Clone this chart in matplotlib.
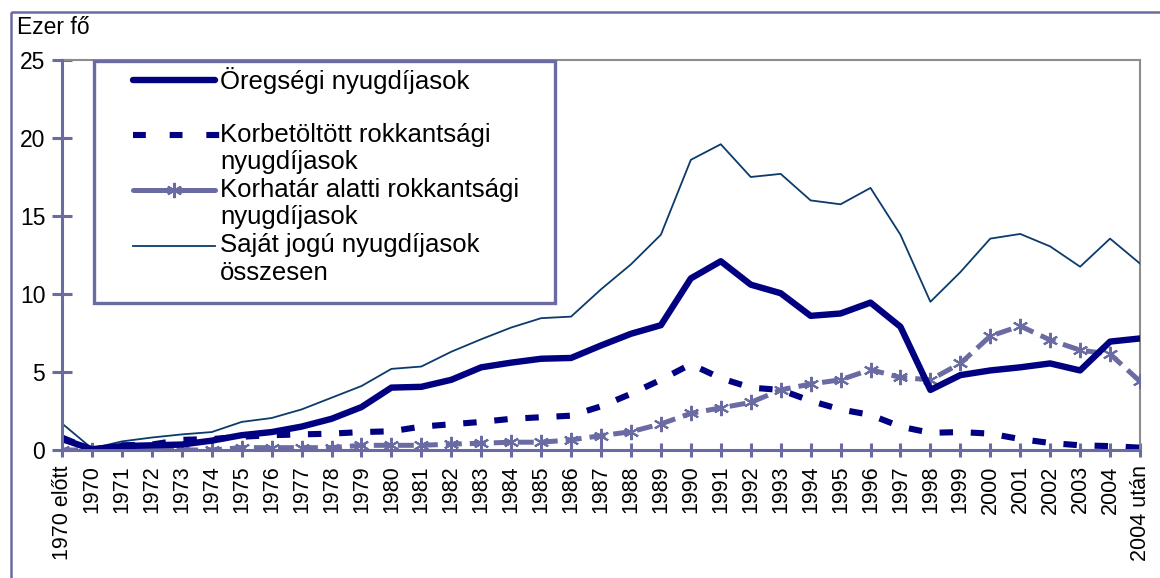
import matplotlib
matplotlib.use('Agg')
import matplotlib.pyplot as plt
from matplotlib.patches import Rectangle

plt.rcParams['font.family'] = ['Liberation Sans', 'DejaVu Sans']

# x kategóriák
kategoriak = ['1970 előtt'] + [str(ev) for ev in range(1970, 2005)] + ['2004 után']

# ezer fő
oregsegi = [0.7, 0.05, 0.25, 0.3, 0.35, 0.6, 0.95, 1.15, 1.5, 2.0, 2.75, 4.0, 4.05,
            4.5, 5.3, 5.6, 5.85, 5.9, 6.7, 7.45, 8.0, 11.0, 12.1, 10.6, 10.05, 8.6,
            8.75, 9.45, 7.9, 3.85, 4.8, 5.1, 5.3, 5.55, 5.1, 6.95, 7.15]
korbetoltott = [0.8, 0.0, 0.3, 0.35, 0.65, 0.7, 0.85, 0.95, 1.0, 1.05, 1.15, 1.2, 1.5,
                1.65, 1.8, 2.0, 2.1, 2.2, 2.8, 3.6, 4.5, 5.5, 4.6, 4.0, 3.85, 3.15,
                2.6, 2.25, 1.5, 1.1, 1.15, 1.05, 0.7, 0.45, 0.3, 0.25, 0.15]
korhatar_alatti = [0.0, 0.0, 0.0, 0.0, 0.0, 0.0, 0.15, 0.15, 0.15, 0.15, 0.3, 0.3, 0.3,
                   0.38, 0.43, 0.5, 0.5, 0.65, 0.92, 1.17, 1.67, 2.35, 2.7, 3.05, 3.85,
                   4.23, 4.5, 5.15, 4.65, 4.5, 5.55, 7.3, 7.95, 7.05, 6.4, 6.15, 4.4]
osszesen = [1.7, 0.1, 0.55, 0.8, 1.0, 1.15, 1.8, 2.05, 2.6, 3.35, 4.1, 5.2, 5.35,
            6.3, 7.1, 7.85, 8.45, 8.55, 10.3, 11.9, 13.8, 18.6, 19.6, 17.5, 17.7,
            16.0, 15.75, 16.8, 13.8, 9.5, 11.4, 13.55, 13.85, 13.05, 11.75, 13.55, 11.95]

navy = '#000080'
pala = '#6B6BA3'
sotetkek = '#0B3B6B'
szurke = '#8C8C8C'
FS = 15.5
FS_LEG = 18.5

W, H = 1160, 578
fig = plt.figure(figsize=(W / 100, H / 100), dpi=100)
ax = fig.add_axes([62 / W, 1 - 450 / H, (1140 - 62) / W, (450 - 60) / H])

x = list(range(len(kategoriak)))
ax.plot(x, osszesen, color=sotetkek, lw=1.3, zorder=3)
ax.plot(x, korhatar_alatti, color=pala, lw=3.6, dashes=(3.2, 1.6),
        marker=(6, 2, 0), ms=11, mew=1.5, mec=pala, zorder=4)
ax.plot(x, korbetoltott, color=navy, lw=4.4, dashes=(2.2, 2.9),
        solid_capstyle='butt', dash_capstyle='butt', zorder=5)
ax.plot(x, oregsegi, color=navy, lw=4.6, solid_joinstyle='round', zorder=6)

ax.set_xlim(0, len(kategoriak) - 1)
ax.set_ylim(0, 25)
ax.set_yticks([0, 5, 10, 15, 20, 25])
ax.set_xticks(x)
ax.set_xticklabels(kategoriak, rotation=90, fontsize=FS)
ax.tick_params(axis='y', direction='inout', length=14, width=2.2, color=pala,
               labelsize=16.5, pad=5)
ax.tick_params(axis='x', direction='inout', length=10, width=2.2, color=pala, pad=6)

for s in ['left', 'bottom']:
    ax.spines[s].set_color(pala)
    ax.spines[s].set_linewidth(2.2)
for s in ['top', 'right']:
    ax.spines[s].set_color(szurke)
    ax.spines[s].set_linewidth(1.5)
ax.spines['left'].set_zorder(7)
ax.spines['bottom'].set_zorder(7)

# overlay: keret, felirat, jelmagyarázat (pixel koordinátákban)
ov = fig.add_axes([0, 0, 1, 1], zorder=10)
ov.set_xlim(0, W)
ov.set_ylim(H, 0)
ov.axis('off')

ov.add_patch(Rectangle((11, 12), W + 50, H + 50, fill=False, ec=pala, lw=1.8, clip_on=False))
ov.text(17, 28, 'Ezer fő', fontsize=16.5, va='center', ha='left')

ov.add_patch(Rectangle((94, 61), 461, 242, fill=False, ec=pala, lw=2.4))

ov.plot([133, 215], [80, 80], color=navy, lw=4.6, solid_capstyle='round')
ov.text(220, 80, 'Öregségi nyugdíjasok', fontsize=FS_LEG, va='center')

ov.plot([133, 220], [135, 135], color=navy, lw=4.4, dashes=(2.1, 3.9), dash_capstyle='butt')
ov.text(220, 135, 'Korbetöltött rokkantsági', fontsize=FS_LEG, va='center')
ov.text(220, 162, 'nyugdíjasok', fontsize=FS_LEG, va='center')

ov.plot([133, 215], [190, 190], color=pala, lw=3.6, solid_capstyle='round')
ov.plot([174], [190], marker=(6, 2, 0), ms=11, mew=1.5, color=pala,
        markerfacecolor='white')
ov.text(220, 190, 'Korhatár alatti rokkantsági', fontsize=FS_LEG, va='center')
ov.text(220, 217, 'nyugdíjasok', fontsize=FS_LEG, va='center')

ov.plot([133, 215], [246, 246], color=sotetkek, lw=1.3)
ov.text(220, 245, 'Saját jogú nyugdíjasok', fontsize=FS_LEG, va='center')
ov.text(220, 273, 'összesen', fontsize=FS_LEG, va='center')

fig.savefig('out.png', dpi=100)
